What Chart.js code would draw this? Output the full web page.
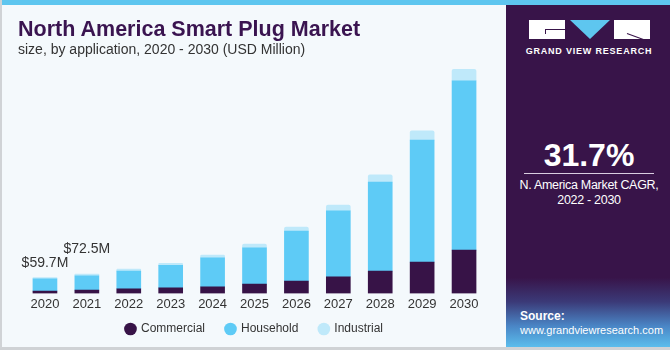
<!DOCTYPE html>
<html>
<head>
<meta charset="utf-8">
<script src="https://cdn.jsdelivr.net/npm/chart.js@4.4.1/dist/chart.umd.min.js"></script>
<style>
  html, body { margin: 0; padding: 0; }
  body { width: 670px; height: 350px; overflow: hidden; font-family: "Liberation Sans", Arial, sans-serif; }
  .frame { position: relative; width: 670px; height: 350px; background: #f4f9fc; box-sizing: border-box; border-left: 2px solid #d0d3d6; border-bottom: 3px solid #cfd2d5; }
  .stripe { position: absolute; left: 0; top: 0; width: 670px; height: 5px; background: #5ec6ef; z-index: 3; }
  .title { position: absolute; left: 16px; top: 17px; font-size: 21.5px; font-weight: bold; color: #3a1450; white-space: nowrap; z-index: 2; }
  .subtitle { position: absolute; left: 16px; top: 41px; font-size: 14px; color: #333; white-space: nowrap; z-index: 2; }
  .chart-box { position: absolute; left: 0; top: 0; width: 505px; height: 347px; }
  .panel { position: absolute; left: 504px; top: 0; width: 166px; height: 347px; background: linear-gradient(to bottom, #381449 0%, #381449 80%, #3b3a78 87%, #4a86c6 94%, #5bbdec 100%); border-right: 2px solid #c8ccd0; box-sizing: border-box; }
  .logo { position: absolute; left: 23px; top: 20px; width: 121px; height: 19px; }
  .logo .b1 { position: absolute; left: 0; top: 0; width: 36px; height: 19px; background: #fff; }
  .logo .g1 { position: absolute; left: 16px; top: 9px; width: 20px; height: 1px; background: #381449; }
  .logo .g2 { position: absolute; left: 16px; top: 9px; width: 1px; height: 5px; background: #381449; }
  .logo .tri { position: absolute; left: 41px; top: 0; width: 0; height: 0; border-left: 20px solid transparent; border-right: 20px solid transparent; border-top: 19px solid #5ec6ef; }
  .logo .b2 { position: absolute; left: 85px; top: 0; width: 36px; height: 19px; background: #fff; }
  .logo .d1 { position: absolute; left: 98px; top: 13px; width: 24px; height: 1px; background: #381449; transform: rotate(20deg); transform-origin: left center; }
  .gvr { position: absolute; left: 0; width: 166px; top: 46px; text-align: center; color: #fff; font-size: 9px; font-weight: bold; letter-spacing: 0.8px; }
  .cagr { position: absolute; left: 0; width: 166px; top: 137px; text-align: center; color: #fff; font-size: 32px; font-weight: bold; }
  .rule { position: absolute; left: 18px; width: 130px; top: 173px; height: 1px; background: #d8cde0; }
  .cagr-text { position: absolute; left: 0; width: 166px; top: 178px; text-align: center; color: #fff; font-size: 12.5px; line-height: 15px; letter-spacing: -0.3px; }
  .src { position: absolute; left: 14px; top: 309px; color: #fff; font-size: 11px; line-height: 14px; }
  .src b { font-size: 12px; }
</style>
</head>
<body>
<div class="frame">
  <div class="stripe"></div>
  <div class="title">North America Smart Plug Market</div>
  <div class="subtitle">size, by application, 2020 - 2030 (USD Million)</div>
  <div class="chart-box"><canvas id="chart"></canvas></div>
  <div class="panel">
    <div class="logo"><div class="b1"></div><div class="g1"></div><div class="g2"></div><div class="tri"></div><div class="b2"></div><div class="d1"></div></div>
    <div class="gvr">GRAND VIEW RESEARCH</div>
    <div class="cagr">31.7%</div>
    <div class="rule"></div>
    <div class="cagr-text">N. America Market CAGR,<br>2022 - 2030</div>
    <div class="src"><b>Source:</b><br>www.grandviewresearch.com</div>
  </div>
</div>
<script>
// values, USD million
const years = ['2020', '2021', '2022', '2023', '2024', '2025', '2026', '2027', '2028', '2029', '2030'];
const commercial = [8.8, 12.4, 17.3, 21.0, 24.8, 34.9, 46.1, 62.3, 83.6, 117.4, 162.4];
const household = [46.0, 53.5, 66.4, 84.0, 108.8, 136.1, 187.5, 247.5, 333.8, 457.5, 634.9];
const industrial = [4.9, 6.6, 7.5, 7.5, 10.1, 13.9, 15.0, 21.4, 27.4, 34.9, 42.8];
const totalLabels = ['$59.7M', '$72.5M'];

// draws the total above the first bars
const totalLabelPlugin = {
  id: 'totalLabels',
  afterDatasetsDraw(chart, args, opts) {
    const ctx = chart.ctx;
    const top = chart.getDatasetMeta(2).data;
    ctx.save();
    ctx.font = '14px "Liberation Sans", Arial, sans-serif';
    ctx.fillStyle = '#333';
    ctx.textAlign = 'center';
    ctx.textBaseline = 'middle';
    totalLabels.forEach((t, i) => {
      const bar = top[i];
      ctx.fillText(t, bar.x, bar.y - opts.offsets[i]);
    });
    ctx.restore();
  }
};

// legend sits closer to the year labels than chart.js puts it
const legendGapPlugin = {
  id: 'legendGap',
  beforeInit(chart) {
    const fit = chart.legend.fit;
    chart.legend.fit = function () {
      fit.call(this);
      this.height -= 15;
    };
  },
  afterLayout(chart) {
    chart.legend.top -= 13;
  }
};

new Chart(document.getElementById('chart'), {
  type: 'bar',
  data: {
    labels: years,
    datasets: [
      { label: 'Commercial', data: commercial, backgroundColor: '#371347' },
      { label: 'Household', data: household, backgroundColor: '#5ecbf6' },
      { label: 'Industrial', data: industrial, backgroundColor: '#bfe9fa', borderRadius: { topLeft: 2, topRight: 2 }, borderSkipped: false }
    ]
  },
  options: {
    responsive: true,
    maintainAspectRatio: false,
    animation: false,
    layout: { padding: { left: 22, right: 22, top: 60, bottom: 4 } },
    datasets: { bar: { barThickness: 24 } },
    plugins: {
      legend: {
        position: 'bottom',
        labels: {
          usePointStyle: true, pointStyle: 'circle', boxWidth: 9, boxHeight: 9,
          padding: 21, color: '#333', font: { size: 12, family: '"Liberation Sans", Arial, sans-serif' }
        }
      },
      tooltip: { enabled: false },
      totalLabels: { offsets: [14, 25] }
    },
    scales: {
      x: {
        stacked: true,
        grid: { display: false, drawTicks: false },
        border: { display: false },
        ticks: { color: '#333', padding: 3, font: { size: 13, family: '"Liberation Sans", Arial, sans-serif' } }
      },
      y: { stacked: true, display: false, min: 0, max: 875 }
    }
  },
  plugins: [totalLabelPlugin, legendGapPlugin]
});
</script>
</body>
</html>
